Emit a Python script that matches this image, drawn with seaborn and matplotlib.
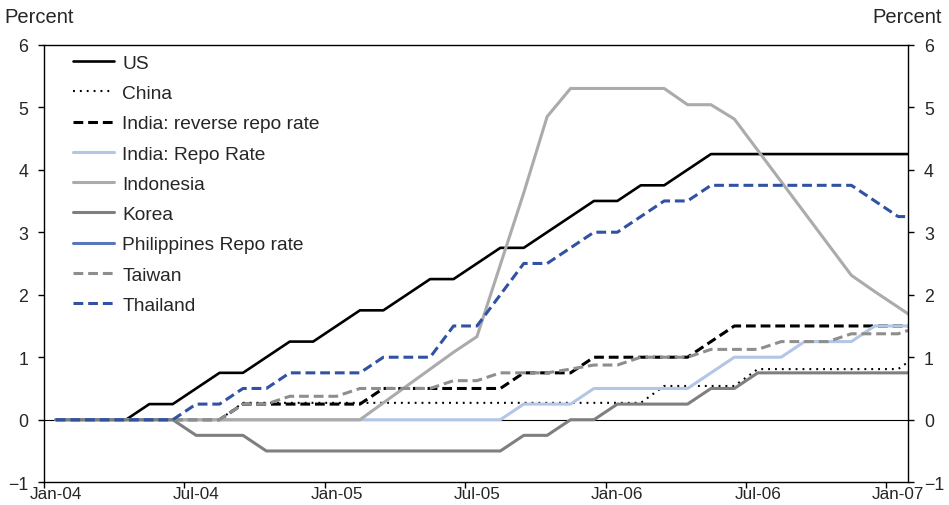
import numpy as np
import pandas as pd
import matplotlib
matplotlib.use("Agg")
import matplotlib.pyplot as plt
import seaborn as sns

# monthly observations, Jan-04 onwards (last one runs past the right edge)
us = [0, 0, 0, 0, 0.25, 0.25, 0.5, 0.75, 0.75, 1.0, 1.25, 1.25, 1.5, 1.75, 1.75, 2.0,
      2.25, 2.25, 2.5, 2.75, 2.75, 3.0, 3.25, 3.5, 3.5, 3.75, 3.75, 4.0,
      4.25, 4.25, 4.25, 4.25, 4.25, 4.25, 4.25, 4.25, 4.25, 4.25]
china = [0, 0, 0, 0, 0, 0, 0, 0,
         0.27, 0.27, 0.27, 0.27, 0.27, 0.27, 0.27, 0.27, 0.27, 0.27, 0.27, 0.27, 0.27,
         0.27, 0.27, 0.27, 0.27, 0.27,
         0.54, 0.54, 0.54, 0.54,
         0.81, 0.81, 0.81, 0.81, 0.81, 0.81, 0.81, 1.08]
india_rev = [0, 0, 0, 0, 0, 0, 0, 0,
             0.25, 0.25, 0.25, 0.25, 0.25, 0.25,
             0.5, 0.5, 0.5, 0.5, 0.5, 0.5,
             0.75, 0.75, 0.75,
             1.0, 1.0, 1.0, 1.0, 1.0,
             1.25,
             1.5, 1.5, 1.5, 1.5, 1.5, 1.5, 1.5, 1.5, 1.5]
india_repo = [0, 0, 0, 0, 0, 0, 0, 0, 0, 0, 0, 0, 0, 0, 0, 0, 0, 0, 0, 0,
              0.25, 0.25, 0.25,
              0.5, 0.5, 0.5, 0.5, 0.5,
              0.75,
              1.0, 1.0, 1.0,
              1.25, 1.25, 1.25,
              1.5, 1.5, 1.5]
indonesia = [0, 0, 0, 0, 0, 0, 0, 0, 0, 0, 0, 0, 0, 0,
             0.27, 0.54, 0.81, 1.08, 1.33, 2.48, 3.63, 4.85,
             5.3, 5.3, 5.3, 5.3, 5.3,
             5.04, 5.04, 4.81, 4.31, 3.81, 3.31, 2.81, 2.31, 2.05, 1.8, 1.55]
korea = [0, 0, 0, 0, 0, 0,
         -0.25, -0.25, -0.25,
         -0.5, -0.5, -0.5, -0.5, -0.5, -0.5, -0.5, -0.5, -0.5, -0.5, -0.5,
         -0.25, -0.25,
         0, 0,
         0.25, 0.25, 0.25, 0.25,
         0.5, 0.5,
         0.75, 0.75, 0.75, 0.75, 0.75, 0.75, 0.75, 0.75]
philippines = [np.nan] * 38  # in the legend, no line visible on the chart
taiwan = [0, 0, 0, 0, 0, 0, 0, 0,
          0.25, 0.25,
          0.375, 0.375, 0.375,
          0.5, 0.5, 0.5, 0.5,
          0.625, 0.625,
          0.75, 0.75, 0.75,
          0.81, 0.875, 0.875,
          1.0, 1.0, 1.0,
          1.125, 1.125, 1.125,
          1.25, 1.25, 1.25,
          1.375, 1.375, 1.375, 1.5]
thailand = [0, 0, 0, 0, 0, 0,
            0.25, 0.25, 0.5, 0.5,
            0.75, 0.75, 0.75, 0.75,
            1.0, 1.0, 1.0,
            1.5, 1.5, 2.0, 2.5, 2.5, 2.75, 3.0, 3.0, 3.25, 3.5, 3.5,
            3.75, 3.75, 3.75, 3.75, 3.75, 3.75, 3.75,
            3.5, 3.25, 3.25]

tick_labels = ["Jan-04", "Jul-04", "Jan-05", "Jul-05", "Jan-06", "Jul-06", "Jan-07"]
tick_months = [0, 6, 12, 18, 24, 30, 36]

sns.set_theme(style="white")
plt.rcParams["font.family"] = ["Liberation Sans", "DejaVu Sans"]
FS = 12.8
LEG_FS = 13.8

months = np.arange(len(us)) + 0.5

fig = plt.figure(figsize=(9.49, 5.06), dpi=100)
ax = fig.add_axes([0.0464, 0.045, 0.9104, 0.8647])

dash = (0, (3.2, 1.6))
series = [
    ("US", us, "black", "-", 1.9),
    ("China", china, "black", (0, (0.9, 2.4)), 1.5),
    ("India: reverse repo rate", india_rev, "black", dash, 2.2),
    ("India: Repo Rate", india_repo, "#b4c6e6", "-", 2.2),
    ("Indonesia", indonesia, "#ababab", "-", 2.2),
    ("Korea", korea, "#7f7f7f", "-", 2.2),
    ("Philippines Repo rate", philippines, "#5a78b8", "-", 2.2),
    ("Taiwan", taiwan, "#8e8e8e", dash, 2.2),
    ("Thailand", thailand, "#3152a3", dash, 2.2),
]

for name, vals, col, ls, lw in series:
    if np.all(np.isnan(np.asarray(vals, dtype=float))):
        ax.plot(months, vals, color=col, linestyle=ls, lw=lw, label=name)
    else:
        sns.lineplot(x=months, y=vals, ax=ax, color=col, linestyle=ls, lw=lw,
                     label=name, legend=False)

ax.axhline(0, color="black", lw=0.8, zorder=1.9)

ax.set_xlim(0, 36.92)
ax.set_ylim(-1, 6)
ax.set_yticks(range(-1, 7))
ax.set_xticks(tick_months)
ax.set_xticklabels([])
ax.set_xticks([m + 0.5 for m in tick_months], minor=True)
ax.set_xticklabels(tick_labels, minor=True)
ax.tick_params(axis="x", which="major", direction="out", length=4, width=1,
               color="black", bottom=True)
ax.tick_params(axis="x", which="minor", length=0, pad=3, labelsize=12.3)
ax.tick_params(axis="y", direction="out", length=4.5, width=1, color="black",
               left=True, right=True, labelleft=True, labelright=True,
               labelsize=FS, pad=7)
ax.set_xlabel("")
ax.set_ylabel("")

for sp in ax.spines.values():
    sp.set_visible(True)
    sp.set_color("black")
    sp.set_linewidth(1)

fig.text(0.005, 0.965, "Percent", fontsize=14.5, ha="left", va="center")
fig.text(0.992, 0.965, "Percent", fontsize=14.5, ha="right", va="center")

leg = ax.legend(loc="upper left", bbox_to_anchor=(0.034, 0.978), frameon=False,
                fontsize=LEG_FS, handlelength=2.1, handletextpad=0.45,
                labelspacing=0.67, borderpad=0, borderaxespad=0)

fig.savefig("out.png", dpi=100)
